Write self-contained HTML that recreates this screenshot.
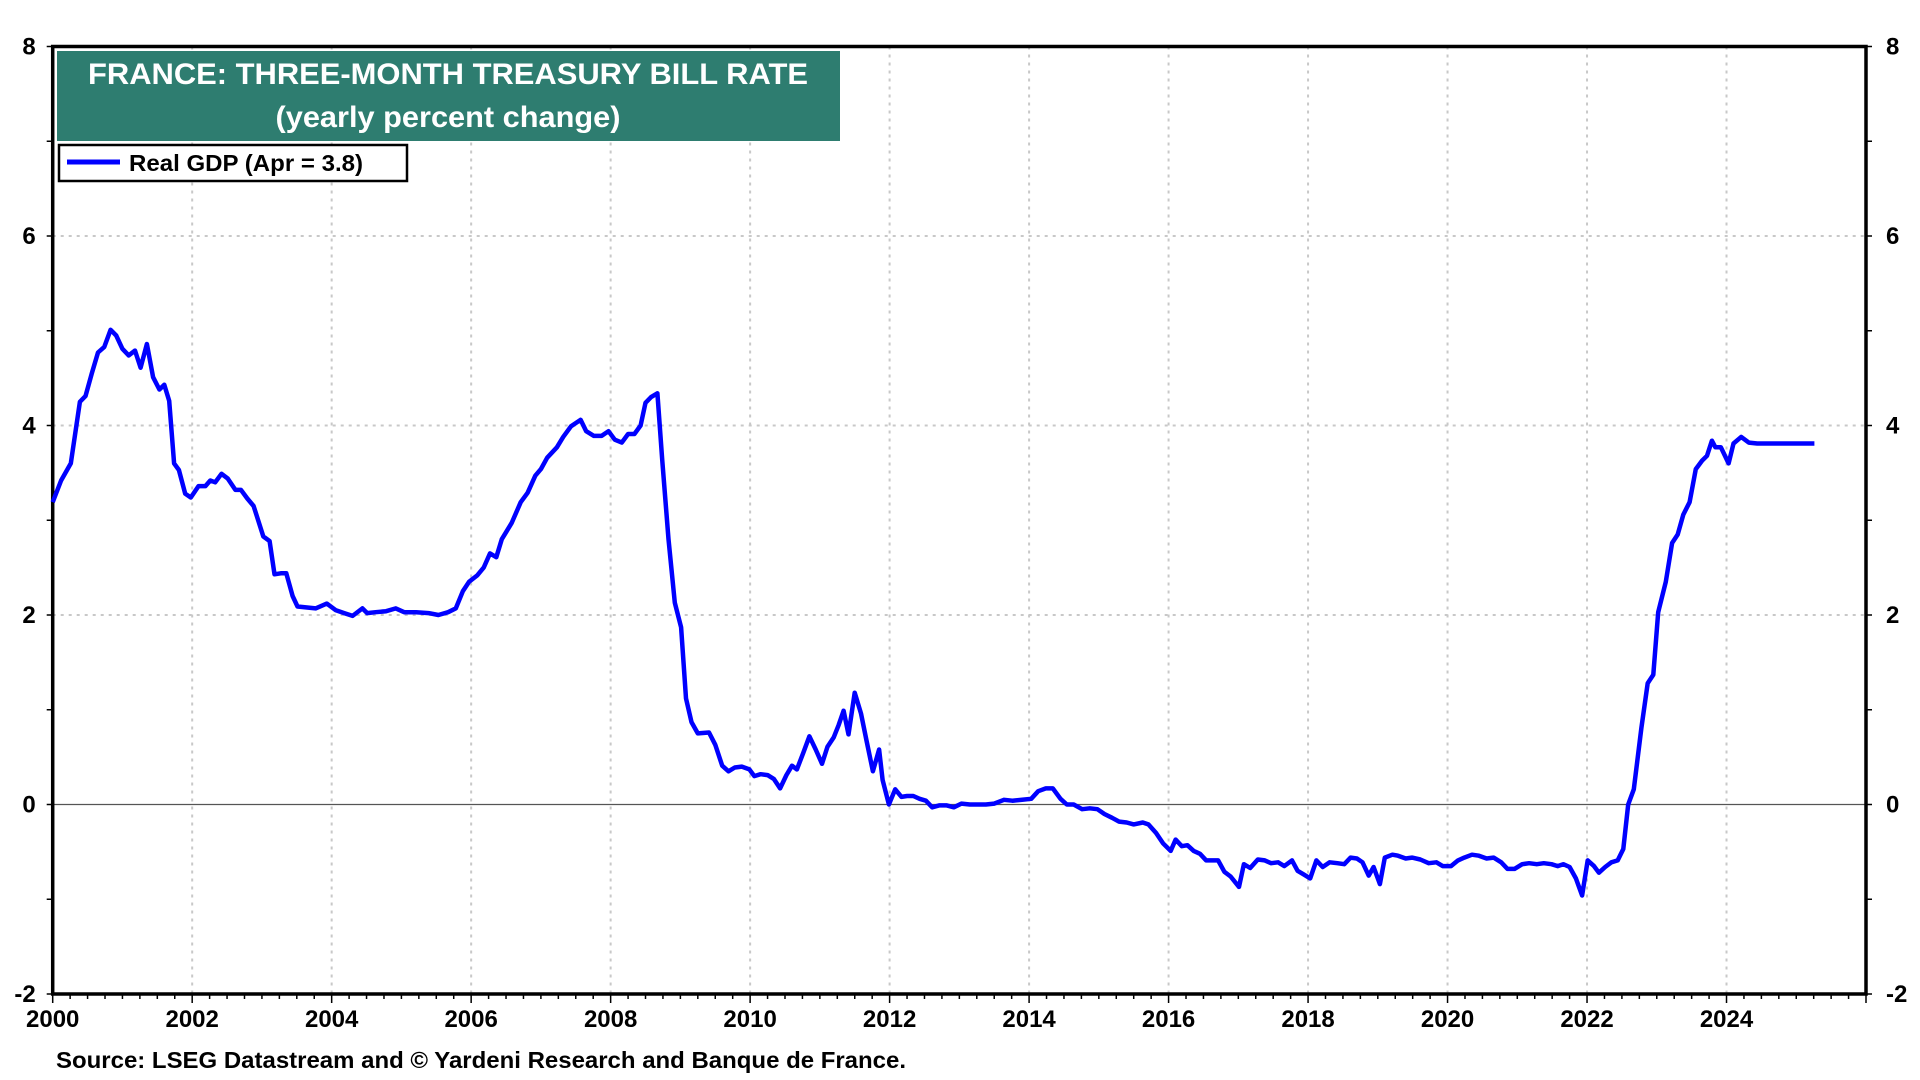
<!DOCTYPE html>
<html><head><meta charset="utf-8"><style>
html,body{margin:0;padding:0;background:#fff;}
svg{display:block;}
text{font-family:"Liberation Sans Narrow","Liberation Sans",sans-serif;font-weight:bold;}
</style></head><body>
<svg id="chart" width="1920" height="1080" viewBox="0 0 1920 1080" xmlns="http://www.w3.org/2000/svg">
<g id="grid"></g>
<g id="axes"></g>
<g id="series"></g>
<rect x="57" y="51" width="783" height="90" fill="#2e7d70"/>
<text x="448" y="84" fill="#fff" font-size="30" text-anchor="middle" textLength="720" lengthAdjust="spacingAndGlyphs">FRANCE: THREE-MONTH TREASURY BILL RATE</text>
<text x="448" y="127" fill="#fff" font-size="30" text-anchor="middle" textLength="345" lengthAdjust="spacingAndGlyphs">(yearly percent change)</text>
<g>
<rect x="59" y="145" width="348" height="36" fill="#fff" stroke="#000" stroke-width="2.5"/>
<line x1="67" y1="162" x2="120" y2="162" stroke="#0000ff" stroke-width="5"/>
<text x="129" y="171" font-size="23" textLength="234" lengthAdjust="spacingAndGlyphs">Real GDP (Apr = 3.8)</text>
</g>
<text x="56" y="1068" font-size="23" textLength="850" lengthAdjust="spacingAndGlyphs">Source: LSEG Datastream and © Yardeni Research and Banque de France.</text>
</svg>
<script>
const yearOffsets=[0,0.12,0.26,0.39,0.47,0.56,0.65,0.74,0.83,0.91,1.00,1.09,1.18,1.26,1.35,1.44,1.53,1.60,1.67,1.74,1.81,1.90,1.98,2.09,2.19,2.26,2.33,2.42,2.51,2.62,2.70,2.79,2.88,3.02,3.11,3.18,3.27,3.35,3.44,3.51,3.63,3.77,3.93,4.06,4.18,4.30,4.44,4.51,4.63,4.78,4.92,5.04,5.21,5.39,5.53,5.67,5.78,5.88,5.97,6.09,6.18,6.27,6.36,6.44,6.58,6.71,6.81,6.92,7.00,7.09,7.23,7.32,7.43,7.57,7.65,7.76,7.87,7.97,8.06,8.16,8.25,8.34,8.43,8.50,8.58,8.67,8.74,8.83,8.92,9.01,9.08,9.16,9.25,9.41,9.50,9.60,9.69,9.78,9.88,9.99,10.06,10.15,10.25,10.34,10.43,10.52,10.60,10.67,10.76,10.85,10.94,11.03,11.11,11.20,11.27,11.34,11.41,11.50,11.59,11.67,11.76,11.85,11.90,11.99,12.08,12.17,12.25,12.34,12.43,12.52,12.61,12.71,12.82,12.92,13.03,13.15,13.25,13.38,13.50,13.64,13.76,13.90,14.03,14.13,14.24,14.34,14.45,14.54,14.64,14.76,14.87,14.98,15.08,15.19,15.29,15.40,15.50,15.63,15.71,15.82,15.92,16.03,16.10,16.19,16.27,16.36,16.45,16.54,16.63,16.71,16.80,16.89,17.01,17.08,17.17,17.28,17.38,17.47,17.57,17.66,17.77,17.85,17.94,18.03,18.12,18.21,18.31,18.42,18.52,18.61,18.70,18.78,18.87,18.94,19.03,19.10,19.21,19.29,19.40,19.49,19.61,19.73,19.84,19.93,20.05,20.15,20.24,20.35,20.45,20.56,20.66,20.77,20.86,20.96,21.07,21.17,21.28,21.38,21.49,21.58,21.66,21.75,21.84,21.93,22.01,22.10,22.17,22.26,22.35,22.44,22.52,22.59,22.67,22.78,22.87,22.95,23.02,23.13,23.22,23.30,23.38,23.47,23.56,23.65,23.72,23.79,23.84,23.92,24.03,24.10,24.21,24.32,24.44,25.26];
const rateValues=[3.19,3.42,3.6,4.25,4.31,4.55,4.77,4.83,5.01,4.95,4.81,4.74,4.79,4.61,4.86,4.51,4.38,4.43,4.26,3.6,3.53,3.28,3.24,3.36,3.36,3.42,3.40,3.49,3.44,3.32,3.32,3.23,3.15,2.83,2.78,2.43,2.44,2.44,2.20,2.09,2.08,2.07,2.12,2.05,2.02,1.99,2.07,2.02,2.03,2.04,2.07,2.03,2.03,2.02,2.0,2.03,2.07,2.25,2.35,2.42,2.5,2.65,2.61,2.8,2.97,3.19,3.29,3.47,3.54,3.66,3.77,3.88,3.99,4.06,3.94,3.89,3.89,3.94,3.85,3.82,3.91,3.91,4.0,4.24,4.3,4.34,3.64,2.8,2.13,1.87,1.12,0.87,0.75,0.76,0.63,0.41,0.35,0.39,0.40,0.37,0.3,0.32,0.31,0.27,0.17,0.31,0.41,0.37,0.54,0.72,0.58,0.43,0.61,0.71,0.84,0.99,0.74,1.18,0.96,0.67,0.35,0.58,0.26,0.0,0.16,0.08,0.09,0.09,0.06,0.04,-0.03,-0.01,-0.01,-0.03,0.01,0,0,0,0.01,0.05,0.04,0.05,0.06,0.14,0.17,0.17,0.06,0,0,-0.05,-0.04,-0.05,-0.10,-0.14,-0.18,-0.19,-0.21,-0.19,-0.21,-0.3,-0.41,-0.49,-0.37,-0.44,-0.43,-0.49,-0.52,-0.59,-0.59,-0.59,-0.71,-0.76,-0.87,-0.63,-0.67,-0.58,-0.59,-0.62,-0.61,-0.65,-0.59,-0.70,-0.74,-0.78,-0.59,-0.66,-0.61,-0.62,-0.63,-0.56,-0.57,-0.61,-0.75,-0.66,-0.84,-0.56,-0.53,-0.54,-0.57,-0.56,-0.58,-0.62,-0.61,-0.65,-0.65,-0.59,-0.56,-0.53,-0.54,-0.57,-0.56,-0.61,-0.68,-0.68,-0.63,-0.62,-0.63,-0.62,-0.63,-0.65,-0.63,-0.66,-0.78,-0.96,-0.59,-0.65,-0.72,-0.66,-0.61,-0.59,-0.47,0,0.16,0.81,1.28,1.37,2.03,2.35,2.76,2.85,3.06,3.19,3.54,3.63,3.68,3.84,3.77,3.77,3.6,3.81,3.88,3.82,3.81,3.81];
const xTickYears=[2000,2002,2004,2006,2008,2010,2012,2014,2016,2018,2020,2022,2024];
const yTickValues=[-2,0,2,4,6,8];

const L=52.7,R=1866,T=46.5,B=994;
const X0=2000,X1=2026,Y0=-2,Y1=8;
function xs(yr){return L+(yr-X0)/(X1-X0)*(R-L);}
function ys(v){return B-(v-Y0)/(Y1-Y0)*(B-T);}
const NS="http://www.w3.org/2000/svg";
function mk(tag,attrs,parent){const e=document.createElementNS(NS,tag);for(const k in attrs)e.setAttribute(k,attrs[k]);parent.appendChild(e);return e;}
const grid=document.getElementById('grid'),axes=document.getElementById('axes'),series=document.getElementById('series');

xTickYears.forEach(y=>{
  if(y>X0){const g=mk('line',{x1:xs(y),x2:xs(y),y1:T,y2:B,stroke:'#c8c8c8','stroke-width':2,'stroke-dasharray':'3,5'},grid);
  
  }
  const t=mk('text',{x:xs(y),y:B+33,'font-size':24,'text-anchor':'middle'},axes);t.textContent=y;
  
  
});
for(let q=0;q<=(X1-X0)*4;q++){
  const yr=X0+q/4;const major=(q%8===0);
  const tk=mk('line',{x1:xs(yr),x2:xs(yr),y1:B,y2:B+(major?9:5),stroke:'#000','stroke-width':1.5},axes);
  
  
}
for(let v=Y0;v<=Y1;v++){
  [[L,L-6],[R,R+6]].forEach(p=>{
    const tk=mk('line',{x1:p[0],x2:p[1],y1:ys(v),y2:ys(v),stroke:'#000','stroke-width':1.5},axes);
    
    
  });
}
yTickValues.forEach(v=>{
  if(v>Y0&&v<Y1&&v!==0){const g=mk('line',{x1:L,x2:R,y1:ys(v),y2:ys(v),stroke:'#c8c8c8','stroke-width':2,'stroke-dasharray':'3,5'},grid);
  
  }
  const a=mk('text',{x:L-17,y:ys(v)+8,'font-size':24,'text-anchor':'end'},axes);a.textContent=v;
  
  
  const b=mk('text',{x:R+20,y:ys(v)+8,'font-size':24,'text-anchor':'start'},axes);b.textContent=v;
  
  
});
const zl=mk('line',{x1:L,x2:R,y1:ys(0),y2:ys(0),stroke:'#555','stroke-width':1.2},grid);


const frame=mk('rect',{x:L,y:T,width:R-L,height:B-T,fill:'none',stroke:'#000','stroke-width':3.5},axes);


let d='';
yearOffsets.forEach((o,i)=>{d+=(i?'L':'M')+xs(X0+o).toFixed(1)+','+ys(rateValues[i]).toFixed(1);});
const line=mk('path',{d:d,fill:'none',stroke:'#0000ff','stroke-width':4.5,'stroke-linejoin':'round'},series);


</script>
</body></html>
